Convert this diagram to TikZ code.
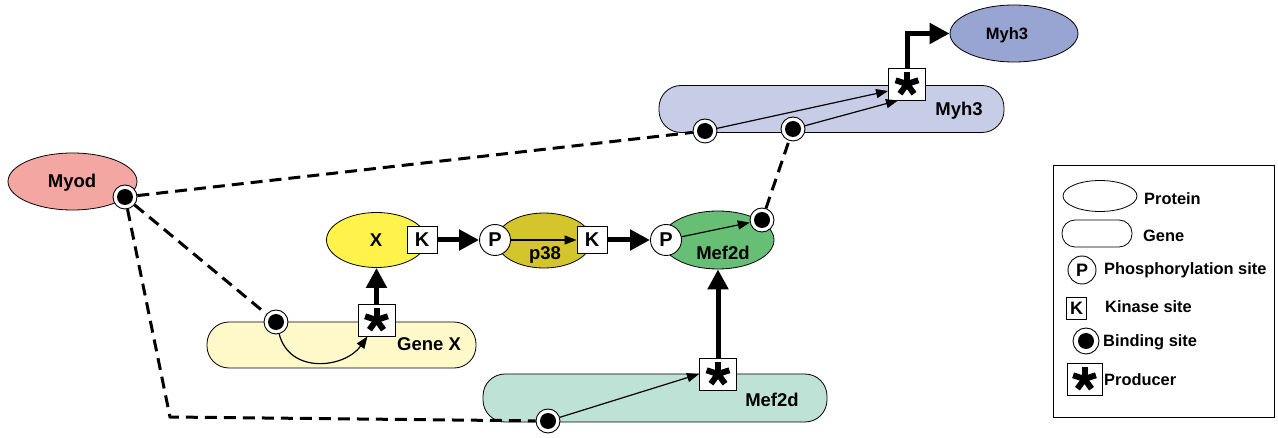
\documentclass[tikz,border=0pt]{standalone}
\usepackage{fontspec}
\setmainfont{Liberation Sans}
\usetikzlibrary{shapes.geometric,arrows.meta,positioning,calc}

\definecolor{myodred}{HTML}{F4A6A3}
\definecolor{myhprotblue}{HTML}{98A4D2}
\definecolor{myhgeneblue}{HTML}{C8CDE7}
\definecolor{xyellow}{HTML}{FFF24A}
\definecolor{ptolive}{HTML}{D5C52D}
\definecolor{mefgreen}{HTML}{67BF75}
\definecolor{genexyellow}{HTML}{FFF9CA}
\definecolor{mefgenegreen}{HTML}{BEE3D6}

\begin{document}
\begin{tikzpicture}[x=1pt, y=-1pt,
    protein/.style={ellipse, draw, line width=0.8pt, inner sep=0pt},
    gene/.style={rectangle, draw, line width=0.8pt, rounded corners=22pt, inner sep=0pt},
    lbl/.style={font=\bfseries\fontsize{18.5}{20}\selectfont, inner sep=0pt, text height=13.3pt, text depth=0pt},
    leglbl/.style={font=\bfseries\fontsize{16.4}{19}\selectfont, inner sep=0pt, anchor=west, text height=11.8pt, text depth=0pt},
    psite/.style={circle, draw, fill=white, line width=0.9pt, minimum size=31pt, inner sep=0pt, font=\bfseries\fontsize{20}{22}\selectfont},
    ksite/.style={rectangle, draw, fill=white, line width=0.9pt, minimum width=30pt, minimum height=27pt, inner sep=0pt, font=\bfseries\fontsize{20}{22}\selectfont},
    bsite/.style={circle, draw, fill=white, line width=0.9pt, minimum size=24pt, inner sep=0pt,
        path picture={\fill[black] (path picture bounding box.center) circle (8pt);}},
    producer/.style={rectangle, draw, fill=white, line width=0.9pt, minimum width=37pt, minimum height=32pt, inner sep=0pt,
        path picture={\foreach \a in {18,90,162,234,306}
            \draw[black, line width=6pt] (path picture bounding box.center) -- ++(\a:12pt);}},
    thickarrow/.style={line width=5pt, -{Triangle[length=20pt,width=20pt]}},
    thinarrow/.style={line width=1.2pt, -{Triangle[length=12pt,width=9pt]}},
    bindline/.style={line width=3pt, dash pattern=on 12pt off 7pt}]

    \useasboundingbox (0,0) rectangle (1278,438);

    % Genes
    \node[gene, fill=genexyellow, minimum width=269pt, minimum height=46pt] (genex) at (341.5,345) {};
    \node[gene, fill=mefgenegreen, minimum width=344pt, minimum height=48pt] (mefgene) at (655,398) {};
    \node[gene, fill=myhgeneblue, minimum width=345pt, minimum height=47pt] (myhgene) at (831.5,109) {};
    \node[lbl] (genexlbl) at (429,344) {Gene X};
    \node[lbl] (mefgenelbl) at (772,400) {Mef2d};
    \node[lbl] (myhgenelbl) at (959,109) {Myh3};

    % Proteins
    \node[protein, fill=myodred, minimum width=129pt, minimum height=57pt] (myod) at (72.5,181.5) {};
    \node[protein, fill=xyellow, minimum width=100pt, minimum height=55pt] (xprot) at (376.5,240) {};
    \node[protein, fill=ptolive, minimum width=95pt, minimum height=55pt] (ptprot) at (544,240.5) {};
    \node[protein, fill=mefgreen, minimum width=112pt, minimum height=58pt] (mefprot) at (718,240) {};
    \node[protein, fill=myhprotblue, minimum width=128pt, minimum height=57pt] (myhprot) at (1014,33.5) {};
    \node[lbl] (myodlbl) at (72,181) {Myod};
    \node[lbl] (xlbl) at (376,240) {X};
    \node[lbl] (ptlbl) at (545,253) {p38};
    \node[lbl] (meflbl) at (723,253) {Mef2d};
    \node[lbl, font=\bfseries\fontsize{16.5}{18}\selectfont, text height=11.8pt] (myhlbl) at (1007,34) {Myh3};

    % Sites
    \node[ksite] (xk) at (422,240) {K};
    \node[psite] (ptp) at (495,240) {P};
    \node[ksite] (ptk) at (592,240) {K};
    \node[psite] (mefp) at (666,240) {P};
    \node[bsite] (mefb) at (762,220) {};
    \node[bsite] (myodb) at (125,197) {};
    \node[bsite] (genexb) at (276,322) {};
    \node[bsite] (mefgb) at (548,421) {};
    \node[bsite] (myhb1) at (705,131) {};
    \node[bsite] (myhb2) at (793,129) {};
    \node[producer] (genexprod) at (376.5,320) {};
    \node[producer] (mefprod) at (718,374) {};
    \node[producer] (myhprod) at (907,84) {};
    \coordinate (bend) at (170,417);

    % Binding
    \draw[bindline] (myodb) -- (myhb1);
    \draw[bindline] (myodb) -- (genexb);
    \draw[bindline] (myodb) -- (bend) -- (mefgb);
    \draw[bindline] (mefb) -- (myhb2);

    % Arrows
    \draw[thickarrow] (xk) -- (ptp);
    \draw[thickarrow] (ptk) -- (mefp);
    \draw[thickarrow] (genexprod) -- (xprot);
    \draw[thickarrow] (mefprod) -- (mefprot);
    \draw[thickarrow] (myhprod.north) |- (myhprot.west);
    \draw[thinarrow] (ptp) -- (ptk);
    \draw[thinarrow] (mefp) -- (mefb);
    \draw[thinarrow] (mefgb) -- (mefprod.west);
    \draw[thinarrow] (myhb1) -- ([yshift=-7pt]myhprod.west);
    \draw[thinarrow] (myhb2) -- ([xshift=-9pt]myhprod.south);
    \draw[thinarrow] (genexb) .. controls (290,375) and (345,368) .. ([xshift=-9pt]genexprod.south);

    % Legend
    \node[draw, line width=0.8pt, minimum width=221pt, minimum height=252pt, inner sep=0pt] (legend) at (1163.5,291) {};
    \node[protein, minimum width=74pt, minimum height=31pt] (legprot) at (1100,196) {};
    \node[gene, rounded corners=13pt, minimum width=70pt, minimum height=27pt] (leggene) at (1097,233.5) {};
    \node[psite, minimum size=28pt, font=\bfseries\fontsize{18}{20}\selectfont] (legp) at (1082,270) {P};
    \node[ksite, minimum width=20pt, minimum height=22pt, font=\bfseries\fontsize{18}{20}\selectfont] (legk) at (1076.5,308) {K};
    \node[bsite, minimum size=26pt] (legb) at (1086,341) {};
    \node[producer, minimum width=35pt, minimum height=32pt] (legprod) at (1084.5,379) {};
    \node[leglbl] (legprotlbl) at (1144,199) {Protein};
    \node[leglbl] (leggenelbl) at (1143,236) {Gene};
    \node[leglbl] (legplbl) at (1104,269) {Phosphorylation site};
    \node[leglbl] (legklbl) at (1105,307) {Kinase site};
    \node[leglbl] (legblbl) at (1103,341) {Binding site};
    \node[leglbl] (legprodlbl) at (1104,380) {Producer};

\end{tikzpicture}
\end{document}
